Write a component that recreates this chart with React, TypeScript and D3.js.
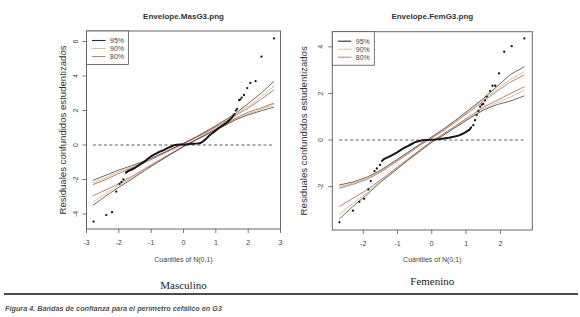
import React from "react";
import * as d3 from "d3";

// ---------- DATA ----------
const levels = ["95%", "90%", "80%"];

// Left panel (Masculino)
const mGrid = [-2.8, -2.4, -2.0, -1.6, -1.2, -0.8, -0.4, 0, 0.4, 0.8, 1.2, 1.6, 2.0, 2.4, 2.8];
const mUp95 = [-2.05, -1.75, -1.45, -1.2, -0.92, -0.6, -0.25, 0.1, 0.48, 0.9, 1.35, 1.82, 2.4, 3.0, 3.7];
const mLo95 = [-3.5, -2.95, -2.45, -1.98, -1.48, -1.0, -0.55, -0.1, 0.3, 0.68, 1.05, 1.45, 1.75, 1.98, 2.2];
const mUp90 = [-2.2, -1.9, -1.55, -1.28, -0.97, -0.64, -0.28, 0.08, 0.46, 0.86, 1.3, 1.75, 2.25, 2.8, 3.4];
const mLo90 = [-3.3, -2.8, -2.35, -1.9, -1.43, -0.96, -0.52, -0.08, 0.32, 0.71, 1.1, 1.5, 1.82, 2.08, 2.35];
const mUp80 = [-2.3, -2.0, -1.65, -1.33, -1.02, -0.67, -0.3, 0.06, 0.44, 0.83, 1.25, 1.7, 2.15, 2.65, 3.2];
const mLo80 = [-2.95, -2.6, -2.25, -1.83, -1.38, -0.93, -0.5, -0.06, 0.34, 0.74, 1.14, 1.55, 1.9, 2.15, 2.43];

const mDotQ = [-2.78, -2.39, -2.21, -2.08, -1.98, -1.92, -1.86, 1.62, 1.66, 1.72, 1.76, 1.8, 1.87, 1.97, 2.07, 2.23, 2.41, 2.8];
const mDotR = [-4.44, -4.06, -3.9, -2.7, -2.25, -2.15, -2.0, 2.0, 2.1, 2.6, 2.65, 2.75, 2.9, 3.3, 3.6, 3.7, 5.12, 6.18];
const mMidQ = [-1.78, -1.7, -1.6, -1.5, -1.4, -1.3, -1.2, -1.1, -1.0, -0.9, -0.8, -0.7, -0.6, -0.5, -0.4, -0.3, -0.2, -0.1, 0, 0.1, 0.2, 0.3, 0.4, 0.5, 0.6, 0.7, 0.8, 0.9, 1.0, 1.1, 1.2, 1.3, 1.4, 1.5, 1.58];
const mMidR = [-1.6, -1.5, -1.42, -1.32, -1.2, -1.08, -0.95, -0.8, -0.65, -0.55, -0.45, -0.36, -0.28, -0.18, -0.1, -0.02, 0.02, 0.03, 0.03, 0.04, 0.06, 0.07, 0.08, 0.1, 0.2, 0.36, 0.55, 0.7, 0.85, 1.0, 1.12, 1.25, 1.4, 1.6, 1.8];
const mXTicks = [-3, -2, -1, 0, 1, 2, 3];
const mYTicks = [-4, -2, 0, 2, 4, 6];

// Right panel (Femenino)
const fGrid = [-2.7, -2.3, -1.9, -1.5, -1.1, -0.7, -0.3, 0, 0.3, 0.7, 1.1, 1.5, 1.9, 2.3, 2.7];
const fUp95 = [-1.93, -1.8, -1.6, -1.3, -0.92, -0.53, -0.13, 0.14, 0.43, 0.86, 1.32, 1.78, 2.3, 2.82, 3.15];
const fLo95 = [-3.4, -2.85, -2.35, -1.82, -1.35, -0.88, -0.43, -0.1, 0.17, 0.55, 0.93, 1.28, 1.52, 1.68, 1.9];
const fUp90 = [-2.0, -1.85, -1.65, -1.34, -0.96, -0.56, -0.16, 0.11, 0.4, 0.82, 1.27, 1.72, 2.2, 2.62, 2.93];
const fLo90 = [-3.2, -2.72, -2.27, -1.77, -1.31, -0.85, -0.4, -0.07, 0.2, 0.58, 0.97, 1.33, 1.6, 1.85, 2.15];
const fUp80 = [-2.07, -1.9, -1.7, -1.38, -1.0, -0.6, -0.19, 0.08, 0.37, 0.78, 1.22, 1.66, 2.1, 2.5, 2.8];
const fLo80 = [-2.86, -2.5, -2.15, -1.72, -1.27, -0.82, -0.37, -0.04, 0.23, 0.62, 1.02, 1.4, 1.7, 2.0, 2.29];

const fDotQ = [-2.69, -2.3, -2.11, -1.97, -1.85, -1.78, -1.67, -1.6, -1.51, 1.21, 1.26, 1.31, 1.36, 1.41, 1.46, 1.5, 1.55, 1.6, 1.7, 1.77, 1.85, 1.96, 2.11, 2.33, 2.7];
const fDotR = [-3.53, -3.03, -2.65, -2.52, -2.12, -1.76, -1.33, -1.22, -1.07, 0.64, 0.85, 1.07, 1.25, 1.43, 1.52, 1.55, 1.7, 1.86, 2.1, 2.33, 2.33, 2.86, 3.79, 4.03, 4.36];
const fMidQ = [-1.45, -1.4, -1.3, -1.2, -1.1, -1.0, -0.9, -0.8, -0.7, -0.6, -0.5, -0.4, -0.3, -0.2, -0.1, 0, 0.1, 0.2, 0.3, 0.4, 0.5, 0.6, 0.7, 0.8, 0.9, 1.0, 1.1, 1.15];
const fMidR = [-0.9, -0.82, -0.75, -0.68, -0.6, -0.52, -0.42, -0.33, -0.26, -0.18, -0.1, -0.05, -0.02, 0, 0, 0.01, 0.02, 0.04, 0.06, 0.08, 0.1, 0.13, 0.16, 0.2, 0.27, 0.35, 0.45, 0.55];
const fXTicks = [-2, -1, 0, 1, 2];
const fYTicks = [-2, 0, 2, 4];

// ---------- STYLE ----------
const levelColors = ["#2a2a2a", "#d8c48e", "#bf7e78"];
const sans = "'Liberation Sans', Arial, sans-serif";
const serif = "'Liberation Serif', 'Times New Roman', serif";
const axisCol = "#555";

type PanelProps = {
  title: string;
  sub: string;
  grid: number[];
  ups: number[][];
  los: number[][];
  dotQ: number[];
  dotR: number[];
  midQ: number[];
  midR: number[];
  xTicks: number[];
  yTicks: number[];
  xDom: [number, number];
  yDom: [number, number];
  box: { x0: number; x1: number; y0: number; y1: number };
  ylabX: number;
  subY: number;
};

function Panel(p: PanelProps) {
  const x = d3.scaleLinear().domain(p.xDom).range([p.box.x0, p.box.x1]);
  const y = d3.scaleLinear().domain(p.yDom).range([p.box.y1, p.box.y0]);
  const line = d3
    .line<[number, number]>()
    .x((d) => x(d[0]))
    .y((d) => y(d[1]))
    .curve(d3.curveLinear);
  const cx = (p.box.x0 + p.box.x1) / 2;
  const cy = (p.box.y0 + p.box.y1) / 2;
  const mid: [number, number][] = p.midQ.map((q, i) => [q, p.midR[i]]);
  const order = [1, 2, 0];
  return (
    <g>
      <text x={cx} y={18.5} textAnchor="middle" fontFamily={sans} fontWeight="bold" fontSize={8} fill="#333">
        {p.title}
      </text>
      {/* envelope lines */}
      {order.map((li) => (
        <g key={li}>
          <path d={line(p.grid.map((q, i) => [q, p.ups[li][i]]) as any) || ""} fill="none" stroke={levelColors[li]} strokeWidth={li === 0 ? 0.7 : 1} />
          <path d={line(p.grid.map((q, i) => [q, p.los[li][i]]) as any) || ""} fill="none" stroke={levelColors[li]} strokeWidth={li === 0 ? 0.7 : 1} />
        </g>
      ))}
      {/* zero dashed line */}
      <line
        x1={x(p.grid[0])}
        x2={x(p.grid[p.grid.length - 1])}
        y1={y(0)}
        y2={y(0)}
        stroke="#333"
        strokeWidth={0.8}
        strokeDasharray="3,2.5"
      />
      {/* data */}
      <path d={line(mid) || ""} fill="none" stroke="#161616" strokeWidth={2} strokeLinejoin="round" strokeLinecap="round" />
      {p.dotQ.map((q, i) => (
        <circle key={i} cx={x(q)} cy={y(p.dotR[i])} r={1.15} fill="#161616" />
      ))}
      {/* box */}
      <rect x={p.box.x0} y={p.box.y0} width={p.box.x1 - p.box.x0} height={p.box.y1 - p.box.y0} fill="none" stroke="#666" strokeWidth={1} />
      {/* x axis */}
      {p.xTicks.map((t) => (
        <g key={t}>
          <line x1={x(t)} x2={x(t)} y1={p.box.y1} y2={p.box.y1 + 4} stroke={axisCol} strokeWidth={0.8} />
          <text x={x(t)} y={p.box.y1 + 15.5} textAnchor="middle" fontFamily={sans} fontSize={7} fill="#444">
            {t < 0 ? "-" + Math.abs(t) : String(t)}
          </text>
        </g>
      ))}
      {/* y axis */}
      {p.yTicks.map((t) => (
        <g key={t}>
          <line x1={p.box.x0 - 4} x2={p.box.x0} y1={y(t)} y2={y(t)} stroke={axisCol} strokeWidth={0.8} />
          <text
            transform={`translate(${p.box.x0 - 9},${y(t)}) rotate(-90)`}
            textAnchor="middle"
            fontFamily={sans}
            fontSize={7}
            fill="#444"
          >
            {t < 0 ? "-" + Math.abs(t) : String(t)}
          </text>
        </g>
      ))}
      <text x={cx} y={261.5} textAnchor="middle" fontFamily={sans} fontSize={7} fill="#444">
        Cuantiles of N(0,1)
      </text>
      <text
        transform={`translate(${p.ylabX},${cy}) rotate(-90)`}
        textAnchor="middle"
        fontFamily={sans}
        fontSize={9.6}
        fill="#333"
      >
        Residuales confundidos estudentizados
      </text>
      {/* legend */}
      <rect x={p.box.x0} y={p.box.y0} width={42} height={33.5} fill="#fff" stroke="#555" strokeWidth={0.8} />
      {levels.map((lv, i) => (
        <g key={lv}>
          <line
            x1={p.box.x0 + 5.5}
            x2={p.box.x0 + 19}
            y1={p.box.y0 + 9.5 + i * 8}
            y2={p.box.y0 + 9.5 + i * 8}
            stroke={levelColors[i]}
            strokeWidth={i === 0 ? 1.1 : 1}
          />
          <text x={p.box.x0 + 23.5} y={p.box.y0 + 12 + i * 8} fontFamily={sans} fontSize={7} fill="#444">
            {lv}
          </text>
        </g>
      ))}
      <text x={cx} y={p.subY} textAnchor="middle" fontFamily={serif} fontSize={11} fill="#222">
        {p.sub}
      </text>
    </g>
  );
}

export default function App() {
  return (
    <svg
      width={580}
      height={317}
      viewBox="0 0 580 317"
      style={{ position: "absolute", left: 0, top: 0, background: "#fff" }}
    >
      <rect x={0} y={0} width={580} height={317} fill="#fff" />
      <Panel
        title="Envelope.MasG3.png"
        sub="Masculino"
        grid={mGrid}
        ups={[mUp95, mUp90, mUp80]}
        los={[mLo95, mLo90, mLo80]}
        dotQ={mDotQ}
        dotR={mDotR}
        midQ={mMidQ}
        midR={mMidR}
        xTicks={mXTicks}
        yTicks={mYTicks}
        xDom={[-3, 3]}
        yDom={[-4.87, 6.61]}
        box={{ x0: 86.5, x1: 280.5, y0: 31, y1: 229 }}
        ylabX={65.5}
        subY={289}
      />
      <Panel
        title="Envelope.FemG3.png"
        sub="Femenino"
        grid={fGrid}
        ups={[fUp95, fUp90, fUp80]}
        los={[fLo95, fLo90, fLo80]}
        dotQ={fDotQ}
        dotR={fDotR}
        midQ={fMidQ}
        midR={fMidR}
        xTicks={fXTicks}
        yTicks={fYTicks}
        xDom={[-2.9, 2.93]}
        yDom={[-3.86, 4.65]}
        box={{ x0: 332.3, x1: 532.3, y0: 31.7, y1: 230 }}
        ylabX={306.5}
        subY={285}
      />
      <line x1={4} x2={578} y1={294} y2={294} stroke="#111" strokeWidth={1.3} />
      <text
        x={5}
        y={310.5}
        fontFamily={sans}
        fontStyle="italic"
        fontWeight="bold"
        fontSize={6.6}
        fill="#555"
        textLength={217}
        lengthAdjust="spacingAndGlyphs"
      >
        Figura 4. Bandas de confianza para el perímetro cefálico en G3
      </text>
    </svg>
  );
}
